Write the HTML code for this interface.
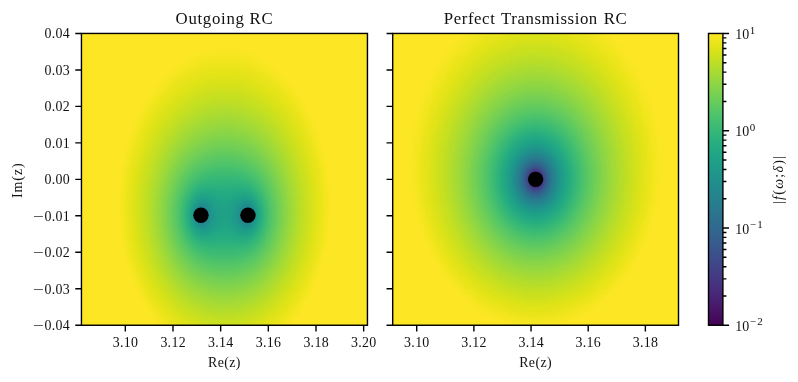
<!DOCTYPE html>
<html lang="en"><head><meta charset="utf-8"><title>Outgoing RC / Perfect Transmission RC</title>
<style>html,body{margin:0;padding:0;background:#fff}svg{display:block}text{font-family:"Liberation Serif", "DejaVu Serif", serif;fill:#111}</style></head><body>
<svg width="798" height="382" viewBox="0 0 798 382">
<rect width="798" height="382" fill="#fff"/>
<defs>
<radialGradient id="ra" gradientUnits="userSpaceOnUse" cx="0" cy="0" r="226.417" gradientTransform="translate(200.97 215.295) scale(1 1.53042)"><stop offset="0.01263" stop-color="rgb(0.00%,0%,0%)"/><stop offset="0.01398" stop-color="rgb(2.33%,0%,0%)"/><stop offset="0.01548" stop-color="rgb(4.65%,0%,0%)"/><stop offset="0.01714" stop-color="rgb(6.98%,0%,0%)"/><stop offset="0.01897" stop-color="rgb(9.30%,0%,0%)"/><stop offset="0.02100" stop-color="rgb(11.63%,0%,0%)"/><stop offset="0.02325" stop-color="rgb(13.95%,0%,0%)"/><stop offset="0.02573" stop-color="rgb(16.28%,0%,0%)"/><stop offset="0.02849" stop-color="rgb(18.60%,0%,0%)"/><stop offset="0.03154" stop-color="rgb(20.93%,0%,0%)"/><stop offset="0.03491" stop-color="rgb(23.26%,0%,0%)"/><stop offset="0.03865" stop-color="rgb(25.58%,0%,0%)"/><stop offset="0.04278" stop-color="rgb(27.91%,0%,0%)"/><stop offset="0.04736" stop-color="rgb(30.23%,0%,0%)"/><stop offset="0.05243" stop-color="rgb(32.56%,0%,0%)"/><stop offset="0.05804" stop-color="rgb(34.88%,0%,0%)"/><stop offset="0.06425" stop-color="rgb(37.21%,0%,0%)"/><stop offset="0.07113" stop-color="rgb(39.53%,0%,0%)"/><stop offset="0.07874" stop-color="rgb(41.86%,0%,0%)"/><stop offset="0.08717" stop-color="rgb(44.19%,0%,0%)"/><stop offset="0.09649" stop-color="rgb(46.51%,0%,0%)"/><stop offset="0.10682" stop-color="rgb(48.84%,0%,0%)"/><stop offset="0.11825" stop-color="rgb(51.16%,0%,0%)"/><stop offset="0.13091" stop-color="rgb(53.49%,0%,0%)"/><stop offset="0.14491" stop-color="rgb(55.81%,0%,0%)"/><stop offset="0.16042" stop-color="rgb(58.14%,0%,0%)"/><stop offset="0.17759" stop-color="rgb(60.47%,0%,0%)"/><stop offset="0.19659" stop-color="rgb(62.79%,0%,0%)"/><stop offset="0.21763" stop-color="rgb(65.12%,0%,0%)"/><stop offset="0.24092" stop-color="rgb(67.44%,0%,0%)"/><stop offset="0.26670" stop-color="rgb(69.77%,0%,0%)"/><stop offset="0.29524" stop-color="rgb(72.09%,0%,0%)"/><stop offset="0.32683" stop-color="rgb(74.42%,0%,0%)"/><stop offset="0.36181" stop-color="rgb(76.74%,0%,0%)"/><stop offset="0.40053" stop-color="rgb(79.07%,0%,0%)"/><stop offset="0.44339" stop-color="rgb(81.40%,0%,0%)"/><stop offset="0.49083" stop-color="rgb(83.72%,0%,0%)"/><stop offset="0.54336" stop-color="rgb(86.05%,0%,0%)"/><stop offset="0.60151" stop-color="rgb(88.37%,0%,0%)"/><stop offset="0.66587" stop-color="rgb(90.70%,0%,0%)"/><stop offset="0.73713" stop-color="rgb(93.02%,0%,0%)"/><stop offset="0.81601" stop-color="rgb(95.35%,0%,0%)"/><stop offset="0.90333" stop-color="rgb(97.67%,0%,0%)"/><stop offset="1.00000" stop-color="rgb(100.00%,0%,0%)"/></radialGradient>
<radialGradient id="rb" gradientUnits="userSpaceOnUse" cx="0" cy="0" r="226.417" gradientTransform="translate(247.93 215.295) scale(1 1.53042)"><stop offset="0.01263" stop-color="rgb(0%,0.00%,0%)"/><stop offset="0.01398" stop-color="rgb(0%,2.33%,0%)"/><stop offset="0.01548" stop-color="rgb(0%,4.65%,0%)"/><stop offset="0.01714" stop-color="rgb(0%,6.98%,0%)"/><stop offset="0.01897" stop-color="rgb(0%,9.30%,0%)"/><stop offset="0.02100" stop-color="rgb(0%,11.63%,0%)"/><stop offset="0.02325" stop-color="rgb(0%,13.95%,0%)"/><stop offset="0.02573" stop-color="rgb(0%,16.28%,0%)"/><stop offset="0.02849" stop-color="rgb(0%,18.60%,0%)"/><stop offset="0.03154" stop-color="rgb(0%,20.93%,0%)"/><stop offset="0.03491" stop-color="rgb(0%,23.26%,0%)"/><stop offset="0.03865" stop-color="rgb(0%,25.58%,0%)"/><stop offset="0.04278" stop-color="rgb(0%,27.91%,0%)"/><stop offset="0.04736" stop-color="rgb(0%,30.23%,0%)"/><stop offset="0.05243" stop-color="rgb(0%,32.56%,0%)"/><stop offset="0.05804" stop-color="rgb(0%,34.88%,0%)"/><stop offset="0.06425" stop-color="rgb(0%,37.21%,0%)"/><stop offset="0.07113" stop-color="rgb(0%,39.53%,0%)"/><stop offset="0.07874" stop-color="rgb(0%,41.86%,0%)"/><stop offset="0.08717" stop-color="rgb(0%,44.19%,0%)"/><stop offset="0.09649" stop-color="rgb(0%,46.51%,0%)"/><stop offset="0.10682" stop-color="rgb(0%,48.84%,0%)"/><stop offset="0.11825" stop-color="rgb(0%,51.16%,0%)"/><stop offset="0.13091" stop-color="rgb(0%,53.49%,0%)"/><stop offset="0.14491" stop-color="rgb(0%,55.81%,0%)"/><stop offset="0.16042" stop-color="rgb(0%,58.14%,0%)"/><stop offset="0.17759" stop-color="rgb(0%,60.47%,0%)"/><stop offset="0.19659" stop-color="rgb(0%,62.79%,0%)"/><stop offset="0.21763" stop-color="rgb(0%,65.12%,0%)"/><stop offset="0.24092" stop-color="rgb(0%,67.44%,0%)"/><stop offset="0.26670" stop-color="rgb(0%,69.77%,0%)"/><stop offset="0.29524" stop-color="rgb(0%,72.09%,0%)"/><stop offset="0.32683" stop-color="rgb(0%,74.42%,0%)"/><stop offset="0.36181" stop-color="rgb(0%,76.74%,0%)"/><stop offset="0.40053" stop-color="rgb(0%,79.07%,0%)"/><stop offset="0.44339" stop-color="rgb(0%,81.40%,0%)"/><stop offset="0.49083" stop-color="rgb(0%,83.72%,0%)"/><stop offset="0.54336" stop-color="rgb(0%,86.05%,0%)"/><stop offset="0.60151" stop-color="rgb(0%,88.37%,0%)"/><stop offset="0.66587" stop-color="rgb(0%,90.70%,0%)"/><stop offset="0.73713" stop-color="rgb(0%,93.02%,0%)"/><stop offset="0.81601" stop-color="rgb(0%,95.35%,0%)"/><stop offset="0.90333" stop-color="rgb(0%,97.67%,0%)"/><stop offset="1.00000" stop-color="rgb(0%,100.00%,0%)"/></radialGradient>
<radialGradient id="rc" gradientUnits="userSpaceOnUse" cx="0" cy="0" r="271.51" gradientTransform="translate(535.6 179.35) scale(1 1.27624)"><stop offset="0.01263" stop-color="rgb(0.00%,0%,0%)"/><stop offset="0.01398" stop-color="rgb(2.33%,0%,0%)"/><stop offset="0.01548" stop-color="rgb(4.65%,0%,0%)"/><stop offset="0.01714" stop-color="rgb(6.98%,0%,0%)"/><stop offset="0.01897" stop-color="rgb(9.30%,0%,0%)"/><stop offset="0.02100" stop-color="rgb(11.63%,0%,0%)"/><stop offset="0.02325" stop-color="rgb(13.95%,0%,0%)"/><stop offset="0.02573" stop-color="rgb(16.28%,0%,0%)"/><stop offset="0.02849" stop-color="rgb(18.60%,0%,0%)"/><stop offset="0.03154" stop-color="rgb(20.93%,0%,0%)"/><stop offset="0.03491" stop-color="rgb(23.26%,0%,0%)"/><stop offset="0.03865" stop-color="rgb(25.58%,0%,0%)"/><stop offset="0.04278" stop-color="rgb(27.91%,0%,0%)"/><stop offset="0.04736" stop-color="rgb(30.23%,0%,0%)"/><stop offset="0.05243" stop-color="rgb(32.56%,0%,0%)"/><stop offset="0.05804" stop-color="rgb(34.88%,0%,0%)"/><stop offset="0.06425" stop-color="rgb(37.21%,0%,0%)"/><stop offset="0.07113" stop-color="rgb(39.53%,0%,0%)"/><stop offset="0.07874" stop-color="rgb(41.86%,0%,0%)"/><stop offset="0.08717" stop-color="rgb(44.19%,0%,0%)"/><stop offset="0.09649" stop-color="rgb(46.51%,0%,0%)"/><stop offset="0.10682" stop-color="rgb(48.84%,0%,0%)"/><stop offset="0.11825" stop-color="rgb(51.16%,0%,0%)"/><stop offset="0.13091" stop-color="rgb(53.49%,0%,0%)"/><stop offset="0.14491" stop-color="rgb(55.81%,0%,0%)"/><stop offset="0.16042" stop-color="rgb(58.14%,0%,0%)"/><stop offset="0.17759" stop-color="rgb(60.47%,0%,0%)"/><stop offset="0.19659" stop-color="rgb(62.79%,0%,0%)"/><stop offset="0.21763" stop-color="rgb(65.12%,0%,0%)"/><stop offset="0.24092" stop-color="rgb(67.44%,0%,0%)"/><stop offset="0.26670" stop-color="rgb(69.77%,0%,0%)"/><stop offset="0.29524" stop-color="rgb(72.09%,0%,0%)"/><stop offset="0.32683" stop-color="rgb(74.42%,0%,0%)"/><stop offset="0.36181" stop-color="rgb(76.74%,0%,0%)"/><stop offset="0.40053" stop-color="rgb(79.07%,0%,0%)"/><stop offset="0.44339" stop-color="rgb(81.40%,0%,0%)"/><stop offset="0.49083" stop-color="rgb(83.72%,0%,0%)"/><stop offset="0.54336" stop-color="rgb(86.05%,0%,0%)"/><stop offset="0.60151" stop-color="rgb(88.37%,0%,0%)"/><stop offset="0.66587" stop-color="rgb(90.70%,0%,0%)"/><stop offset="0.73713" stop-color="rgb(93.02%,0%,0%)"/><stop offset="0.81601" stop-color="rgb(95.35%,0%,0%)"/><stop offset="0.90333" stop-color="rgb(97.67%,0%,0%)"/><stop offset="1.00000" stop-color="rgb(100.00%,0%,0%)"/></radialGradient>
<linearGradient id="ly" gradientUnits="userSpaceOnUse" x1="0" y1="33.45" x2="0" y2="325.25"><stop offset="0" stop-color="rgb(0,0,0)"/><stop offset="1" stop-color="rgb(0,0,255)"/></linearGradient>
<filter id="v1" x="0" y="0" width="1" height="1" color-interpolation-filters="sRGB"><feColorMatrix type="matrix" values="0.63285 0.63285 0.04053 0 -0.06365  0.63285 0.63285 0.04053 0 -0.06365  0.63285 0.63285 0.04053 0 -0.06365  0 0 0 0 1"/><feComponentTransfer><feFuncR type="table" tableValues="0.2670 0.2699 0.2726 0.2750 0.2770 0.2788 0.2803 0.2814 0.2823 0.2829 0.2832 0.2832 0.2829 0.2823 0.2814 0.2803 0.2788 0.2771 0.2752 0.2730 0.2706 0.2680 0.2651 0.2621 0.2590 0.2556 0.2522 0.2486 0.2450 0.2412 0.2374 0.2336 0.2297 0.2259 0.2220 0.2181 0.2143 0.2105 0.2068 0.2031 0.1994 0.1959 0.1924 0.1889 0.1856 0.1823 0.1790 0.1758 0.1727 0.1696 0.1666 0.1636 0.1607 0.1577 0.1548 0.1519 0.1490 0.1462 0.1433 0.1405 0.1378 0.1351 0.1324 0.1299 0.1265 0.1244 0.1226 0.1211 0.1201 0.1195 0.1195 0.1201 0.1214 0.1234 0.1263 0.1301 0.1347 0.1402 0.1466 0.1539 0.1620 0.1709 0.1807 0.1911 0.2022 0.2140 0.2264 0.2394 0.2529 0.2669 0.2815 0.2965 0.3119 0.3278 0.3441 0.3607 0.3778 0.3952 0.4129 0.4310 0.4494 0.4681 0.4870 0.5063 0.5258 0.5455 0.5655 0.5857 0.6060 0.6266 0.6473 0.6681 0.6889 0.7099 0.7309 0.7519 0.7729 0.7938 0.8146 0.8353 0.8558 0.8762 0.8963 0.9162 0.9359 0.9553 0.9744 0.9932"/><feFuncG type="table" tableValues="0.0049 0.0146 0.0256 0.0378 0.0503 0.0621 0.0734 0.0843 0.0950 0.1054 0.1157 0.1258 0.1359 0.1459 0.1558 0.1657 0.1755 0.1852 0.1949 0.2045 0.2141 0.2235 0.2330 0.2423 0.2515 0.2607 0.2698 0.2788 0.2877 0.2965 0.3052 0.3138 0.3224 0.3308 0.3392 0.3474 0.3556 0.3637 0.3718 0.3797 0.3876 0.3954 0.4032 0.4109 0.4186 0.4262 0.4338 0.4413 0.4488 0.4563 0.4637 0.4711 0.4785 0.4859 0.4933 0.5007 0.5081 0.5154 0.5228 0.5301 0.5375 0.5449 0.5522 0.5596 0.5706 0.5780 0.5854 0.5927 0.6001 0.6075 0.6148 0.6222 0.6295 0.6368 0.6441 0.6514 0.6586 0.6659 0.6731 0.6802 0.6873 0.6944 0.7014 0.7084 0.7153 0.7221 0.7289 0.7356 0.7422 0.7488 0.7552 0.7616 0.7678 0.7740 0.7800 0.7860 0.7918 0.7975 0.8030 0.8085 0.8138 0.8189 0.8239 0.8288 0.8335 0.8380 0.8424 0.8467 0.8507 0.8546 0.8584 0.8620 0.8654 0.8688 0.8719 0.8750 0.8779 0.8807 0.8834 0.8860 0.8886 0.8911 0.8936 0.8961 0.8986 0.9011 0.9036 0.9062"/><feFuncB type="table" tableValues="0.3294 0.3414 0.3531 0.3645 0.3757 0.3866 0.3972 0.4074 0.4173 0.4269 0.4361 0.4450 0.4534 0.4615 0.4692 0.4765 0.4834 0.4899 0.4960 0.5017 0.5071 0.5120 0.5166 0.5208 0.5247 0.5283 0.5316 0.5346 0.5373 0.5397 0.5419 0.5439 0.5457 0.5473 0.5488 0.5500 0.5512 0.5522 0.5531 0.5539 0.5546 0.5553 0.5558 0.5563 0.5568 0.5571 0.5574 0.5577 0.5579 0.5580 0.5581 0.5581 0.5581 0.5580 0.5578 0.5576 0.5573 0.5568 0.5563 0.5557 0.5549 0.5540 0.5530 0.5519 0.5498 0.5483 0.5466 0.5446 0.5425 0.5402 0.5377 0.5349 0.5320 0.5288 0.5253 0.5216 0.5176 0.5134 0.5089 0.5042 0.4991 0.4938 0.4882 0.4823 0.4761 0.4696 0.4628 0.4557 0.4483 0.4406 0.4326 0.4242 0.4156 0.4066 0.3974 0.3878 0.3779 0.3678 0.3573 0.3465 0.3354 0.3240 0.3123 0.3004 0.2881 0.2756 0.2629 0.2499 0.2367 0.2234 0.2099 0.1963 0.1827 0.1693 0.1560 0.1432 0.1311 0.1200 0.1103 0.1026 0.0975 0.0953 0.0963 0.1007 0.1081 0.1181 0.1302 0.1439"/></feComponentTransfer></filter>
<filter id="v2" x="0" y="0" width="1" height="1" color-interpolation-filters="sRGB"><feColorMatrix type="matrix" values="1.26569 0.00000 0.04053 0 -0.06365  1.26569 0.00000 0.04053 0 -0.06365  1.26569 0.00000 0.04053 0 -0.06365  0 0 0 0 1"/><feComponentTransfer><feFuncR type="table" tableValues="0.2670 0.2699 0.2726 0.2750 0.2770 0.2788 0.2803 0.2814 0.2823 0.2829 0.2832 0.2832 0.2829 0.2823 0.2814 0.2803 0.2788 0.2771 0.2752 0.2730 0.2706 0.2680 0.2651 0.2621 0.2590 0.2556 0.2522 0.2486 0.2450 0.2412 0.2374 0.2336 0.2297 0.2259 0.2220 0.2181 0.2143 0.2105 0.2068 0.2031 0.1994 0.1959 0.1924 0.1889 0.1856 0.1823 0.1790 0.1758 0.1727 0.1696 0.1666 0.1636 0.1607 0.1577 0.1548 0.1519 0.1490 0.1462 0.1433 0.1405 0.1378 0.1351 0.1324 0.1299 0.1265 0.1244 0.1226 0.1211 0.1201 0.1195 0.1195 0.1201 0.1214 0.1234 0.1263 0.1301 0.1347 0.1402 0.1466 0.1539 0.1620 0.1709 0.1807 0.1911 0.2022 0.2140 0.2264 0.2394 0.2529 0.2669 0.2815 0.2965 0.3119 0.3278 0.3441 0.3607 0.3778 0.3952 0.4129 0.4310 0.4494 0.4681 0.4870 0.5063 0.5258 0.5455 0.5655 0.5857 0.6060 0.6266 0.6473 0.6681 0.6889 0.7099 0.7309 0.7519 0.7729 0.7938 0.8146 0.8353 0.8558 0.8762 0.8963 0.9162 0.9359 0.9553 0.9744 0.9932"/><feFuncG type="table" tableValues="0.0049 0.0146 0.0256 0.0378 0.0503 0.0621 0.0734 0.0843 0.0950 0.1054 0.1157 0.1258 0.1359 0.1459 0.1558 0.1657 0.1755 0.1852 0.1949 0.2045 0.2141 0.2235 0.2330 0.2423 0.2515 0.2607 0.2698 0.2788 0.2877 0.2965 0.3052 0.3138 0.3224 0.3308 0.3392 0.3474 0.3556 0.3637 0.3718 0.3797 0.3876 0.3954 0.4032 0.4109 0.4186 0.4262 0.4338 0.4413 0.4488 0.4563 0.4637 0.4711 0.4785 0.4859 0.4933 0.5007 0.5081 0.5154 0.5228 0.5301 0.5375 0.5449 0.5522 0.5596 0.5706 0.5780 0.5854 0.5927 0.6001 0.6075 0.6148 0.6222 0.6295 0.6368 0.6441 0.6514 0.6586 0.6659 0.6731 0.6802 0.6873 0.6944 0.7014 0.7084 0.7153 0.7221 0.7289 0.7356 0.7422 0.7488 0.7552 0.7616 0.7678 0.7740 0.7800 0.7860 0.7918 0.7975 0.8030 0.8085 0.8138 0.8189 0.8239 0.8288 0.8335 0.8380 0.8424 0.8467 0.8507 0.8546 0.8584 0.8620 0.8654 0.8688 0.8719 0.8750 0.8779 0.8807 0.8834 0.8860 0.8886 0.8911 0.8936 0.8961 0.8986 0.9011 0.9036 0.9062"/><feFuncB type="table" tableValues="0.3294 0.3414 0.3531 0.3645 0.3757 0.3866 0.3972 0.4074 0.4173 0.4269 0.4361 0.4450 0.4534 0.4615 0.4692 0.4765 0.4834 0.4899 0.4960 0.5017 0.5071 0.5120 0.5166 0.5208 0.5247 0.5283 0.5316 0.5346 0.5373 0.5397 0.5419 0.5439 0.5457 0.5473 0.5488 0.5500 0.5512 0.5522 0.5531 0.5539 0.5546 0.5553 0.5558 0.5563 0.5568 0.5571 0.5574 0.5577 0.5579 0.5580 0.5581 0.5581 0.5581 0.5580 0.5578 0.5576 0.5573 0.5568 0.5563 0.5557 0.5549 0.5540 0.5530 0.5519 0.5498 0.5483 0.5466 0.5446 0.5425 0.5402 0.5377 0.5349 0.5320 0.5288 0.5253 0.5216 0.5176 0.5134 0.5089 0.5042 0.4991 0.4938 0.4882 0.4823 0.4761 0.4696 0.4628 0.4557 0.4483 0.4406 0.4326 0.4242 0.4156 0.4066 0.3974 0.3878 0.3779 0.3678 0.3573 0.3465 0.3354 0.3240 0.3123 0.3004 0.2881 0.2756 0.2629 0.2499 0.2367 0.2234 0.2099 0.1963 0.1827 0.1693 0.1560 0.1432 0.1311 0.1200 0.1103 0.1026 0.0975 0.0953 0.0963 0.1007 0.1081 0.1181 0.1302 0.1439"/></feComponentTransfer></filter>
<radialGradient id="fa" gradientUnits="userSpaceOnUse" cx="0" cy="0" r="143" gradientTransform="translate(224.45 215.295) scale(1 1.53042)"><stop offset="0.0200" stop-color="#1fa088"/><stop offset="0.0221" stop-color="#1fa088"/><stop offset="0.0244" stop-color="#1fa088"/><stop offset="0.0270" stop-color="#1fa088"/><stop offset="0.0299" stop-color="#1fa088"/><stop offset="0.0330" stop-color="#1fa088"/><stop offset="0.0365" stop-color="#1fa088"/><stop offset="0.0404" stop-color="#1fa188"/><stop offset="0.0446" stop-color="#1fa188"/><stop offset="0.0493" stop-color="#1fa188"/><stop offset="0.0545" stop-color="#1fa188"/><stop offset="0.0603" stop-color="#1fa188"/><stop offset="0.0666" stop-color="#1fa188"/><stop offset="0.0737" stop-color="#1fa188"/><stop offset="0.0815" stop-color="#1fa187"/><stop offset="0.0900" stop-color="#1fa187"/><stop offset="0.0996" stop-color="#1fa287"/><stop offset="0.1101" stop-color="#20a386"/><stop offset="0.1217" stop-color="#20a486"/><stop offset="0.1345" stop-color="#21a685"/><stop offset="0.1487" stop-color="#23a983"/><stop offset="0.1644" stop-color="#25ac82"/><stop offset="0.1817" stop-color="#29af7f"/><stop offset="0.2009" stop-color="#2fb47c"/><stop offset="0.2221" stop-color="#38b977"/><stop offset="0.2455" stop-color="#42be71"/><stop offset="0.2714" stop-color="#4ec36b"/><stop offset="0.3001" stop-color="#5cc863"/><stop offset="0.3317" stop-color="#6ccd5a"/><stop offset="0.3667" stop-color="#7cd250"/><stop offset="0.4054" stop-color="#8ed645"/><stop offset="0.4482" stop-color="#a0da39"/><stop offset="0.4955" stop-color="#b5de2b"/><stop offset="0.5478" stop-color="#c8e020"/><stop offset="0.6056" stop-color="#dae319"/><stop offset="0.6695" stop-color="#efe51c"/><stop offset="0.7401" stop-color="#fde725"/><stop offset="0.8182" stop-color="#fde725"/><stop offset="0.9046" stop-color="#fde725"/><stop offset="1.0000" stop-color="#fde725"/></radialGradient>
<radialGradient id="fb" gradientUnits="userSpaceOnUse" cx="0" cy="0" r="171.48" gradientTransform="translate(535.6 179.35) scale(1 1.27624)"><stop offset="0.0200" stop-color="#440154"/><stop offset="0.0221" stop-color="#440154"/><stop offset="0.0244" stop-color="#450559"/><stop offset="0.0270" stop-color="#471164"/><stop offset="0.0299" stop-color="#481b6d"/><stop offset="0.0330" stop-color="#482576"/><stop offset="0.0365" stop-color="#472e7c"/><stop offset="0.0404" stop-color="#453781"/><stop offset="0.0446" stop-color="#424086"/><stop offset="0.0493" stop-color="#3f4889"/><stop offset="0.0545" stop-color="#3b518b"/><stop offset="0.0603" stop-color="#38598c"/><stop offset="0.0666" stop-color="#34618d"/><stop offset="0.0737" stop-color="#31688e"/><stop offset="0.0815" stop-color="#2e6f8e"/><stop offset="0.0900" stop-color="#2a768e"/><stop offset="0.0996" stop-color="#287d8e"/><stop offset="0.1101" stop-color="#25848e"/><stop offset="0.1217" stop-color="#228b8d"/><stop offset="0.1345" stop-color="#20928c"/><stop offset="0.1487" stop-color="#1f998a"/><stop offset="0.1644" stop-color="#1fa188"/><stop offset="0.1817" stop-color="#22a785"/><stop offset="0.2009" stop-color="#27ad81"/><stop offset="0.2221" stop-color="#31b57b"/><stop offset="0.2455" stop-color="#3bbb75"/><stop offset="0.2714" stop-color="#4ac16d"/><stop offset="0.3001" stop-color="#58c765"/><stop offset="0.3317" stop-color="#69cd5b"/><stop offset="0.3667" stop-color="#7ad151"/><stop offset="0.4054" stop-color="#8bd646"/><stop offset="0.4482" stop-color="#a0da39"/><stop offset="0.4955" stop-color="#b2dd2d"/><stop offset="0.5478" stop-color="#c8e020"/><stop offset="0.6056" stop-color="#dae319"/><stop offset="0.6695" stop-color="#efe51c"/><stop offset="0.7401" stop-color="#fde725"/><stop offset="0.8182" stop-color="#fde725"/><stop offset="0.9046" stop-color="#fde725"/><stop offset="1.0000" stop-color="#fde725"/></radialGradient>
<linearGradient id="cbg" gradientUnits="userSpaceOnUse" x1="0" y1="325.25" x2="0" y2="33.45"><stop offset="0" stop-color="#440154"/><stop offset="0.031" stop-color="#470d60"/><stop offset="0.062" stop-color="#48186a"/><stop offset="0.094" stop-color="#482374"/><stop offset="0.125" stop-color="#472d7b"/><stop offset="0.156" stop-color="#453781"/><stop offset="0.188" stop-color="#424086"/><stop offset="0.219" stop-color="#3e4989"/><stop offset="0.25" stop-color="#3b528b"/><stop offset="0.281" stop-color="#375b8d"/><stop offset="0.312" stop-color="#33638d"/><stop offset="0.344" stop-color="#2f6b8e"/><stop offset="0.375" stop-color="#2c728e"/><stop offset="0.406" stop-color="#297a8e"/><stop offset="0.438" stop-color="#26828e"/><stop offset="0.469" stop-color="#23898e"/><stop offset="0.5" stop-color="#21918c"/><stop offset="0.531" stop-color="#1f988b"/><stop offset="0.562" stop-color="#1fa088"/><stop offset="0.594" stop-color="#22a785"/><stop offset="0.625" stop-color="#28ae80"/><stop offset="0.656" stop-color="#32b67a"/><stop offset="0.688" stop-color="#3fbc73"/><stop offset="0.719" stop-color="#4ec36b"/><stop offset="0.75" stop-color="#5ec962"/><stop offset="0.781" stop-color="#70cf57"/><stop offset="0.812" stop-color="#84d44b"/><stop offset="0.844" stop-color="#98d83e"/><stop offset="0.875" stop-color="#addc30"/><stop offset="0.906" stop-color="#c2df23"/><stop offset="0.938" stop-color="#d8e219"/><stop offset="0.969" stop-color="#ece51b"/><stop offset="1" stop-color="#fde725"/></linearGradient>
</defs>
<rect x="81.45" y="33.45" width="286" height="291.8" fill="url(#fa)"/><rect x="392.7" y="33.45" width="285.8" height="291.8" fill="url(#fb)"/>
<g filter="url(#v1)"><rect x="81.45" y="33.45" width="286" height="291.8" fill="url(#ra)"/><rect x="81.45" y="33.45" width="286" height="291.8" fill="url(#rb)" style="mix-blend-mode:screen"/><rect x="81.45" y="33.45" width="286" height="291.8" fill="url(#ly)" style="mix-blend-mode:screen"/></g>
<g filter="url(#v2)"><rect x="392.7" y="33.45" width="285.8" height="291.8" fill="url(#rc)"/><rect x="392.7" y="33.45" width="285.8" height="291.8" fill="url(#ly)" style="mix-blend-mode:screen"/></g>
<rect x="708.5" y="33.45" width="14.4" height="291.8" fill="url(#cbg)"/>
<circle cx="200.97" cy="215.295" r="7.7" fill="#000"/>
<circle cx="247.93" cy="215.295" r="7.7" fill="#000"/>
<circle cx="535.6" cy="179.35" r="7.7" fill="#000"/>
<path d="M75.28 33.45H81.45M75.28 69.925H81.45M75.28 106.4H81.45M75.28 142.875H81.45M75.28 179.35H81.45M75.28 215.825H81.45M75.28 252.3H81.45M75.28 288.775H81.45M75.28 325.25H81.45M386.53 33.45H392.7M386.53 69.925H392.7M386.53 106.4H392.7M386.53 142.875H392.7M386.53 179.35H392.7M386.53 215.825H392.7M386.53 252.3H392.7M386.53 288.775H392.7M386.53 325.25H392.7M125.321 325.25V331.42M172.988 325.25V331.42M220.654 325.25V331.42M268.321 325.25V331.42M315.988 325.25V331.42M363.654 325.25V331.42M416.728 325.25V331.42M473.888 325.25V331.42M531.048 325.25V331.42M588.208 325.25V331.42M645.368 325.25V331.42M722.9 33.45H729.07M722.9 130.717H729.07M722.9 227.983H729.07M722.9 325.25H729.07M722.9 295.97H726.43M722.9 278.842H726.43M722.9 266.69H726.43M722.9 257.264H726.43M722.9 249.562H726.43M722.9 243.05H726.43M722.9 237.409H726.43M722.9 232.434H726.43M722.9 198.703H726.43M722.9 181.575H726.43M722.9 169.423H726.43M722.9 159.997H726.43M722.9 152.295H726.43M722.9 145.783H726.43M722.9 140.143H726.43M722.9 135.167H726.43M722.9 101.436H726.43M722.9 84.309H726.43M722.9 72.156H726.43M722.9 62.73H726.43M722.9 55.028H726.43M722.9 48.517H726.43M722.9 42.876H726.43M722.9 37.901H726.43" stroke="#000" stroke-width="1.41" fill="none"/>
<rect x="81.45" y="33.45" width="286" height="291.8" fill="none" stroke="#000" stroke-width="1.41"/>
<rect x="392.7" y="33.45" width="285.8" height="291.8" fill="none" stroke="#000" stroke-width="1.41"/>
<rect x="708.5" y="33.45" width="14.4" height="291.8" fill="none" stroke="#000" stroke-width="1.41"/>
<text x="224.45" y="23.7" font-size="16.8" text-anchor="middle" letter-spacing="0.7">Outgoing RC</text>
<text x="535.6" y="23.7" font-size="16.8" text-anchor="middle" letter-spacing="0.58" word-spacing="1.2">Perfect Transmission RC</text>
<text x="70" y="38.45" font-size="13.9" text-anchor="end" letter-spacing="0.3">0.04</text>
<text x="70" y="74.925" font-size="13.9" text-anchor="end" letter-spacing="0.3">0.03</text>
<text x="70" y="111.4" font-size="13.9" text-anchor="end" letter-spacing="0.3">0.02</text>
<text x="70" y="147.875" font-size="13.9" text-anchor="end" letter-spacing="0.3">0.01</text>
<text x="70" y="184.35" font-size="13.9" text-anchor="end" letter-spacing="0.3">0.00</text>
<text x="70" y="220.825" font-size="13.9" text-anchor="end" letter-spacing="0.3">0.01</text>
<text transform="translate(33.1 220.825) scale(1.38 1)" font-size="13.9">−</text>
<text x="70" y="257.3" font-size="13.9" text-anchor="end" letter-spacing="0.3">0.02</text>
<text transform="translate(33.1 257.3) scale(1.38 1)" font-size="13.9">−</text>
<text x="70" y="293.775" font-size="13.9" text-anchor="end" letter-spacing="0.3">0.03</text>
<text transform="translate(33.1 293.775) scale(1.38 1)" font-size="13.9">−</text>
<text x="70" y="330.25" font-size="13.9" text-anchor="end" letter-spacing="0.3">0.04</text>
<text transform="translate(33.1 330.25) scale(1.38 1)" font-size="13.9">−</text>
<text x="125.471" y="346.7" font-size="13.9" text-anchor="middle" letter-spacing="0.3">3.10</text>
<text x="173.138" y="346.7" font-size="13.9" text-anchor="middle" letter-spacing="0.3">3.12</text>
<text x="220.804" y="346.7" font-size="13.9" text-anchor="middle" letter-spacing="0.3">3.14</text>
<text x="268.471" y="346.7" font-size="13.9" text-anchor="middle" letter-spacing="0.3">3.16</text>
<text x="316.138" y="346.7" font-size="13.9" text-anchor="middle" letter-spacing="0.3">3.18</text>
<text x="363.804" y="346.7" font-size="13.9" text-anchor="middle" letter-spacing="0.3">3.20</text>
<text x="224.45" y="366.7" font-size="13.9" text-anchor="middle" letter-spacing="0.4">Re(z)</text>
<text x="416.878" y="346.7" font-size="13.9" text-anchor="middle" letter-spacing="0.3">3.10</text>
<text x="474.038" y="346.7" font-size="13.9" text-anchor="middle" letter-spacing="0.3">3.12</text>
<text x="531.198" y="346.7" font-size="13.9" text-anchor="middle" letter-spacing="0.3">3.14</text>
<text x="588.358" y="346.7" font-size="13.9" text-anchor="middle" letter-spacing="0.3">3.16</text>
<text x="645.518" y="346.7" font-size="13.9" text-anchor="middle" letter-spacing="0.3">3.18</text>
<text x="535.6" y="366.7" font-size="13.9" text-anchor="middle" letter-spacing="0.4">Re(z)</text>
<text transform="translate(22.4 180.2) rotate(-90)" font-size="13.9" text-anchor="middle" letter-spacing="1.0">Im(z)</text>
<text x="735.3" y="39.05" font-size="13.9">10<tspan dx="0.6" dy="-5.4" font-size="11">1</tspan></text>
<text x="735.3" y="136.317" font-size="13.9">10<tspan dx="0.6" dy="-5.4" font-size="11">0</tspan></text>
<text x="735.3" y="233.583" font-size="13.9">10<tspan dx="0.6" dy="-5.4" font-size="11" letter-spacing="1.2">−1</tspan></text>
<text x="735.3" y="330.85" font-size="13.9">10<tspan dx="0.6" dy="-5.4" font-size="11" letter-spacing="1.2">−2</tspan></text>
<text transform="translate(783.3 179.4) rotate(-90)" font-size="13.9" text-anchor="middle" letter-spacing="1.3">|<tspan font-style="italic">f</tspan>(<tspan font-style="italic">ω</tspan>;<tspan font-style="italic">δ</tspan>)|</text>
</svg></body></html>
